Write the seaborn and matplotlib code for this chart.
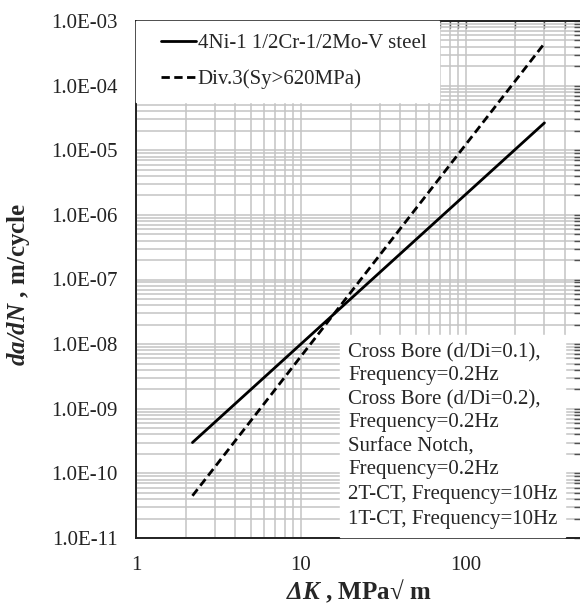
import numpy as np
import pandas as pd
import matplotlib
matplotlib.use("Agg")
import matplotlib.pyplot as plt
import seaborn as sns
from matplotlib.lines import Line2D
from matplotlib.legend_handler import HandlerLine2D
from matplotlib.ticker import LogLocator, FixedLocator, FuncFormatter, NullFormatter

# ---- data ----
series_names = ["4Ni-1 1/2Cr-1/2Mo-V steel", "Div.3(Sy>620MPa)"]
steel_dk = [2.2, 300.0]
steel_rate = [3.0e-10, 2.65e-5]
div3_dk = [2.2, 300.0]
div3_rate = [4.5e-11, 4.5e-4]
test_labels = [
    "Cross Bore (d/Di=0.1),\nFrequency=0.2Hz",
    "Cross Bore (d/Di=0.2),\nFrequency=0.2Hz",
    "Surface Notch,\nFrequency=0.2Hz",
    "2T-CT, Frequency=10Hz",
    "1T-CT, Frequency=10Hz",
]
x_ticks = [1, 10, 100]
y_ticks = [1e-11, 1e-10, 1e-9, 1e-8, 1e-7, 1e-6, 1e-5, 1e-4, 1e-3]

df = pd.DataFrame({
    "dK": steel_dk + div3_dk,
    "rate": steel_rate + div3_rate,
    "series": [series_names[0]] * len(steel_dk) + [series_names[1]] * len(div3_dk),
})

sns.set_theme(style="white")
plt.rcParams["font.family"] = ["Liberation Serif", "DejaVu Serif"]
plt.rcParams["mathtext.fontset"] = "custom"
plt.rcParams["mathtext.bf"] = "Liberation Serif:italic:bold"
plt.rcParams["mathtext.rm"] = "Liberation Serif"
plt.rcParams["mathtext.it"] = "Liberation Serif:italic"

fig = plt.figure(figsize=(5.8, 6.04), dpi=100)
ax = fig.add_axes([136 / 580, 1 - 538 / 604, (581 - 136) / 580, (538 - 21) / 604])

sns.lineplot(data=df, x="dK", y="rate", hue="series", style="series",
             palette={series_names[0]: "black", series_names[1]: "black"},
             dashes={series_names[0]: "", series_names[1]: (3, 1.6)},
             linewidth=2.0, legend=False, ax=ax, zorder=3)

ax.set_xscale("log")
ax.set_yscale("log")
ax.set_xlim(1, 500)
ax.set_ylim(1e-11, 1e-3)

ax.xaxis.set_major_locator(FixedLocator(x_ticks))
ax.xaxis.set_major_formatter(FuncFormatter(lambda v, p: f"{v:g}"))
ax.xaxis.set_minor_locator(LogLocator(base=10, subs=np.arange(2, 10)))
ax.xaxis.set_minor_formatter(NullFormatter())
ax.yaxis.set_major_locator(FixedLocator(y_ticks))
ax.yaxis.set_major_formatter(FuncFormatter(lambda v, p: f"{v:.1E}"))
ax.yaxis.set_minor_locator(LogLocator(base=10, subs=np.arange(2, 10), numticks=20))
ax.yaxis.set_minor_formatter(NullFormatter())

ax.grid(which="both", color="#c4c4c4", linewidth=1.1, zorder=0)
ax.set_axisbelow(True)
ax.tick_params(which="both", direction="in", top=True, right=True,
               length=5, width=1, color="#505050", labelsize=15)
ax.tick_params(axis="y", which="major", pad=13, labelcolor="#222222")
ax.tick_params(axis="x", which="major", pad=13, labelcolor="#222222")
for s in ax.spines.values():
    s.set_color("#222222")
    s.set_linewidth(1.4)

ax.set_xlabel(r"$\mathbf{\Delta K}$ , MPa√ m", fontsize=18, fontweight="bold")
ax.set_ylabel(r"$\mathbf{da/dN}$ , m/cycle", fontsize=18, fontweight="bold")
ax.xaxis.set_label_coords(0.5, -0.076)
ax.yaxis.set_label_coords(-0.233, 0.49)


class OffsetLineHandler(HandlerLine2D):
    """Draw the legend line only in the right part of the handle box."""
    def __init__(self, offset=0.7, **kw):
        super().__init__(**kw)
        self._off = offset

    def create_artists(self, legend, orig_handle, xdescent, ydescent, width,
                       height, fontsize, trans):
        off = self._off * fontsize
        return super().create_artists(legend, orig_handle, xdescent - off, ydescent,
                                      width - off, height, fontsize, trans)


# legend 1: the two curves
h1 = [Line2D([], [], color="black", lw=2.0),
      Line2D([], [], color="black", lw=2.0, dashes=(3, 1.6))]
leg1 = ax.legend(h1, series_names, loc="upper left", bbox_to_anchor=(0.0, 1.0),
                 borderaxespad=0, frameon=True, fancybox=False, framealpha=1,
                 facecolor="white", edgecolor="white", fontsize=15,
                 handlelength=2.24, handletextpad=0.1, labelspacing=0.76,
                 borderpad=0.62,
                 handler_map={Line2D: OffsetLineHandler(offset=0.56)})
leg1.set_zorder(5)
ax.add_artist(leg1)

# legend 2: test conditions (no visible markers)
h2 = [Line2D([], [], linestyle="none", marker=None) for _ in test_labels]
leg2 = ax.legend(h2, test_labels, loc="upper left",
                 bbox_to_anchor=((340 - 136) / 445, (538 - 335) / 517),
                 borderaxespad=0, frameon=True, fancybox=False, framealpha=1,
                 facecolor="white", edgecolor="white", fontsize=15,
                 handlelength=0, handletextpad=0, labelspacing=0.25,
                 borderpad=0.38)
for t in leg2.get_texts():
    t.set_linespacing(1.27)
leg2.set_zorder(5)

fig.savefig("out.png", dpi=100)
